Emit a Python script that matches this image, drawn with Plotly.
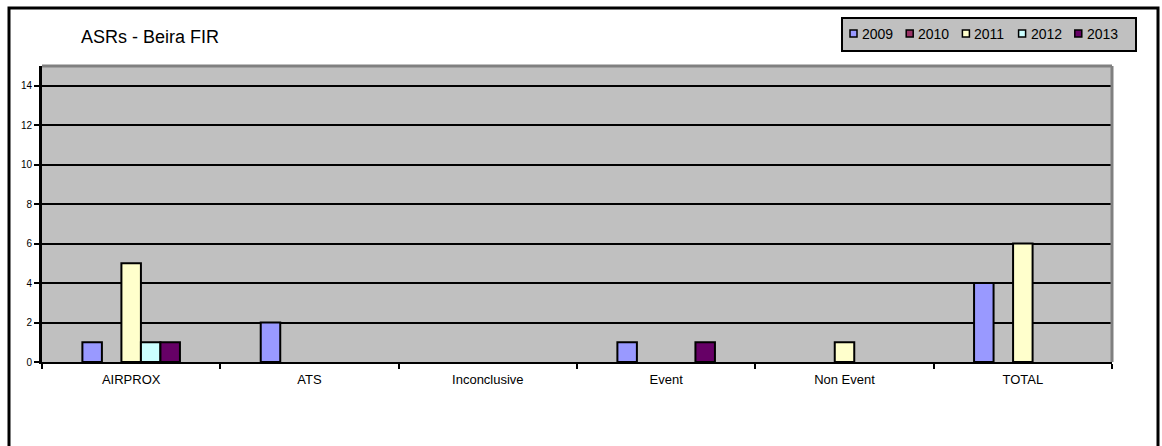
import plotly.graph_objects as go

# Air safety reports by category, one series per year
categories = ["AIRPROX", "ATS", "Inconclusive", "Event", "Non Event", "TOTAL"]
years = ["2009", "2010", "2011", "2012", "2013"]
v2009 = [1, 2, 0, 1, 0, 4]
v2010 = [0, 0, 0, 0, 0, 0]
v2011 = [5, 0, 0, 0, 1, 6]
v2012 = [1, 0, 0, 0, 0, 0]
v2013 = [1, 0, 0, 1, 0, 0]
year_colors = ["#9999FF", "#993366", "#FFFFCC", "#CCFFFF", "#660066"]
y_ticks = [0, 2, 4, 6, 8, 10, 12, 14]

series = [v2009, v2010, v2011, v2012, v2013]

W, H = 1162, 446
L, R, T, B = 42, 50, 66, 84
pw, ph = W - L - R, H - T - B


def px_x(px):
    return (px - L) / pw


def px_y(py):
    return (H - B - py) / ph


FONT = "Arial, Liberation Sans, sans-serif"

fig = go.Figure()
for name, vals, col in zip(years, series, year_colors):
    # empty categories get no bar at all (not even an outline)
    fig.add_trace(go.Bar(
        x=categories, y=[v if v else None for v in vals], name=name,
        marker=dict(color=col, line=dict(color="black", width=2)),
        showlegend=False,
    ))

shapes = []
# outer chart frame
shapes.append(dict(type="rect", xref="paper", yref="paper",
                   x0=px_x(9), x1=px_x(1158), y0=px_y(470), y1=px_y(8),
                   line=dict(color="black", width=3), layer="below"))
# grey wall edges on top and right of the plotting area
shapes.append(dict(type="line", xref="paper", yref="paper",
                   x0=0, x1=1, y0=1, y1=1, line=dict(color="#808080", width=3)))
shapes.append(dict(type="line", xref="paper", yref="paper",
                   x0=1, x1=1, y0=0, y1=1, line=dict(color="#808080", width=3)))

# legend box with coloured keys
shapes.append(dict(type="rect", xref="paper", yref="paper",
                   x0=px_x(842), x1=px_x(1136), y0=px_y(51), y1=px_y(18),
                   fillcolor="#C0C0C0", line=dict(color="black", width=2)))
annotations = []
for i, (name, col) in enumerate(zip(years, year_colors)):
    sx = 850 + i * 56.2
    shapes.append(dict(type="rect", xref="paper", yref="paper",
                       x0=px_x(sx), x1=px_x(sx + 7), y0=px_y(37), y1=px_y(30),
                       fillcolor=col, line=dict(color="black", width=1.5)))
    annotations.append(dict(xref="paper", yref="paper", x=px_x(sx + 10), y=px_y(34),
                            xanchor="left", yanchor="middle", text=name, showarrow=False,
                            font=dict(family=FONT, size=14, color="black")))

annotations.append(dict(xref="paper", yref="paper", x=px_x(79), y=px_y(37),
                        xanchor="left", yanchor="middle", text="ASRs - Beira FIR",
                        showarrow=False, font=dict(family=FONT, size=18, color="black")))

fig.update_layout(
    width=W, height=H,
    margin=dict(l=L, r=R, t=T, b=B, pad=0),
    paper_bgcolor="white", plot_bgcolor="#C0C0C0",
    barmode="group", bargap=0.453, bargroupgap=0,
    shapes=shapes, annotations=annotations,
    font=dict(family=FONT, color="black"),
)
fig.update_xaxes(
    type="category", tickson="boundaries", ticks="outside", ticklen=5,
    tickwidth=2, tickcolor="black", showgrid=False,
    showline=True, linecolor="black", linewidth=2,
    ticklabelstandoff=4,
    tickfont=dict(family=FONT, size=13, color="black"),
)
fig.update_yaxes(
    range=[0, 15], tickvals=y_ticks, ticks="outside", ticklen=5,
    tickwidth=2, tickcolor="black",
    showgrid=True, gridcolor="black", gridwidth=2,
    zeroline=False, showline=True, linecolor="black", linewidth=3,
    tickfont=dict(family=FONT, size=10, color="black"),
)

fig.write_html("out.html")
